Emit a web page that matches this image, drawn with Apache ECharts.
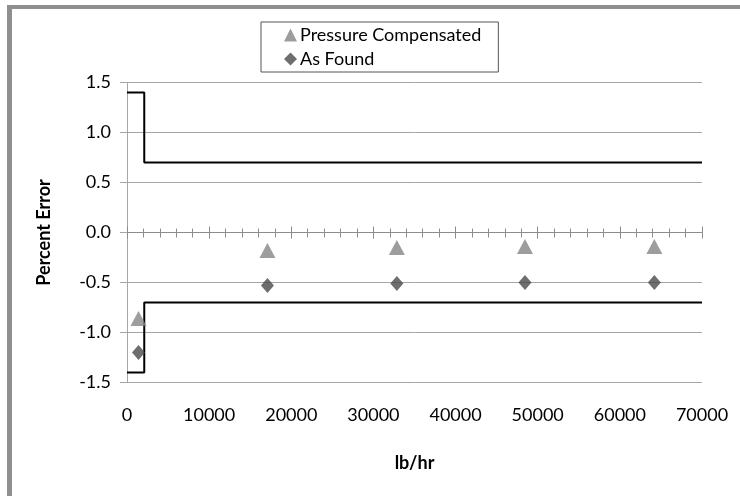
<!DOCTYPE html>
<html><head><meta charset="utf-8">
<script src="https://cdn.jsdelivr.net/npm/echarts@6/dist/echarts.min.js"></script>
<style>html,body{margin:0;padding:0;background:#fff}#c{width:740px;height:496px}</style>
</head><body><div id="c"></div>
<script>
// ---- data ----
const flowRates = [1400, 17100, 32850, 48450, 64200];
const pressureCompensated = [-0.86, -0.18, -0.15, -0.14, -0.14];
const asFound = [-1.20, -0.53, -0.51, -0.50, -0.50];
const upperLimitX = [0, 2100, 70000];
const upperLimitY = [1.4, 0.7, 0.7];
const lowerLimitX = [0, 2100, 70000];
const lowerLimitY = [-1.4, -0.7, -0.7];
const xMin = 0, xMax = 70000, xStep = 10000;
const yMin = -1.5, yMax = 1.5, yStep = 0.5;
const seriesNames = ['Pressure Compensated', 'As Found'];
const xTitle = 'lb/hr';
const yTitle = 'Percent Error';

const pair = (xs, ys) => xs.map((x, i) => [x, ys[i]]);
const FONT = 'Lato';
const gridColor = '#a6a6a6';
const tickColor = '#8c8c8c';

const chart = echarts.init(document.getElementById('c'), null, {renderer: 'canvas'});
chart.setOption({
  backgroundColor: '#fff',
  animation: false,
  textStyle: {fontFamily: FONT},
  grid: {left: 127, right: 38, top: 82.5, bottom: 113.5, containLabel: false},
  legend: {
    data: seriesNames,
    orient: 'vertical',
    left: 261, top: 22,
    padding: [4, 17, 4, 23],
    itemGap: 6,
    itemWidth: 13, itemHeight: 13,
    borderColor: '#555', borderWidth: 1,
    textStyle: {fontFamily: FONT, fontSize: 18, color: '#000', padding: [0, 0, 0, -2]}
  },
  xAxis: [
    {type: 'value', min: xMin, max: xMax, interval: xStep, position: 'bottom',
      axisLine: {show: true, onZero: true, onZeroAxisIndex: 0, lineStyle: {color: tickColor, width: 1}},
      axisTick: {show: true, inside: false, length: 6, lineStyle: {color: tickColor}},
      minorTick: {show: true, splitNumber: 5, length: 5, lineStyle: {color: tickColor}},
      axisLabel: {show: false}, splitLine: {show: false}},
    {type: 'value', min: xMin, max: xMax, interval: xStep, position: 'top',
      axisLine: {show: false, onZero: true, onZeroAxisIndex: 1},
      axisTick: {show: true, inside: false, length: 6, lineStyle: {color: tickColor}},
      minorTick: {show: true, splitNumber: 5, length: 4, lineStyle: {color: tickColor}},
      axisLabel: {show: false}, splitLine: {show: false}},
    {type: 'value', min: xMin, max: xMax, interval: xStep, position: 'bottom',
      axisLine: {show: false, onZero: false},
      axisTick: {show: false},
      axisLabel: {show: true, margin: 24, fontFamily: FONT, fontSize: 18, color: '#000',
        formatter: v => String(v)},
      splitLine: {show: false},
      name: xTitle, nameLocation: 'middle', nameGap: 72,
      nameTextStyle: {fontFamily: FONT, fontSize: 18, fontWeight: 'bold', color: '#000'}}
  ],
  yAxis: [
    {type: 'value', min: yMin, max: yMax, interval: yStep, position: 'left',
      axisLine: {show: true, onZero: false, lineStyle: {color: gridColor, width: 1}},
      axisTick: {show: true, inside: false, length: 7, lineStyle: {color: gridColor}},
      axisLabel: {margin: 16, fontFamily: FONT, fontSize: 18, color: '#000',
        formatter: v => v.toFixed(1)},
      splitLine: {show: true, lineStyle: {color: gridColor, width: 1}},
      name: yTitle, nameLocation: 'middle', nameGap: 74, nameRotate: 90,
      nameTextStyle: {fontFamily: FONT, fontSize: 18, fontWeight: 'bold', color: '#000'}},
    {type: 'value', min: yMin, max: yMax, interval: yStep, position: 'right',
      axisLine: {show: false, onZero: false}, axisTick: {show: false},
      axisLabel: {show: false}, splitLine: {show: false}}
  ],
  graphic: [
    {type: 'rect', left: 7, top: 5, shape: {width: 740, height: 4}, style: {fill: '#8f8f8f'}, silent: true},
    {type: 'rect', left: 7, top: 5, shape: {width: 5, height: 500}, style: {fill: '#8f8f8f'}, silent: true}
  ],
  series: [
    {name: 'upper', type: 'line', xAxisIndex: 0, yAxisIndex: 0, step: 'end', data: pair(upperLimitX, upperLimitY),
      showSymbol: false, symbol: 'none', lineStyle: {color: '#000', width: 2}, z: 3},
    {name: 'lower', type: 'line', xAxisIndex: 0, yAxisIndex: 0, step: 'end', data: pair(lowerLimitX, lowerLimitY),
      showSymbol: false, symbol: 'none', lineStyle: {color: '#000', width: 2}, z: 3},
    {name: seriesNames[0], type: 'scatter', xAxisIndex: 0, yAxisIndex: 0, symbol: 'triangle', symbolSize: [16, 15],
      itemStyle: {color: '#858585'}, data: pair(flowRates, pressureCompensated), z: 4},
    {name: seriesNames[1], type: 'scatter', xAxisIndex: 0, yAxisIndex: 0, symbol: 'diamond', symbolSize: [13, 15],
      itemStyle: {color: '#4a4a4a'}, data: pair(flowRates, asFound), z: 5}
  ]
});
</script></body></html>
